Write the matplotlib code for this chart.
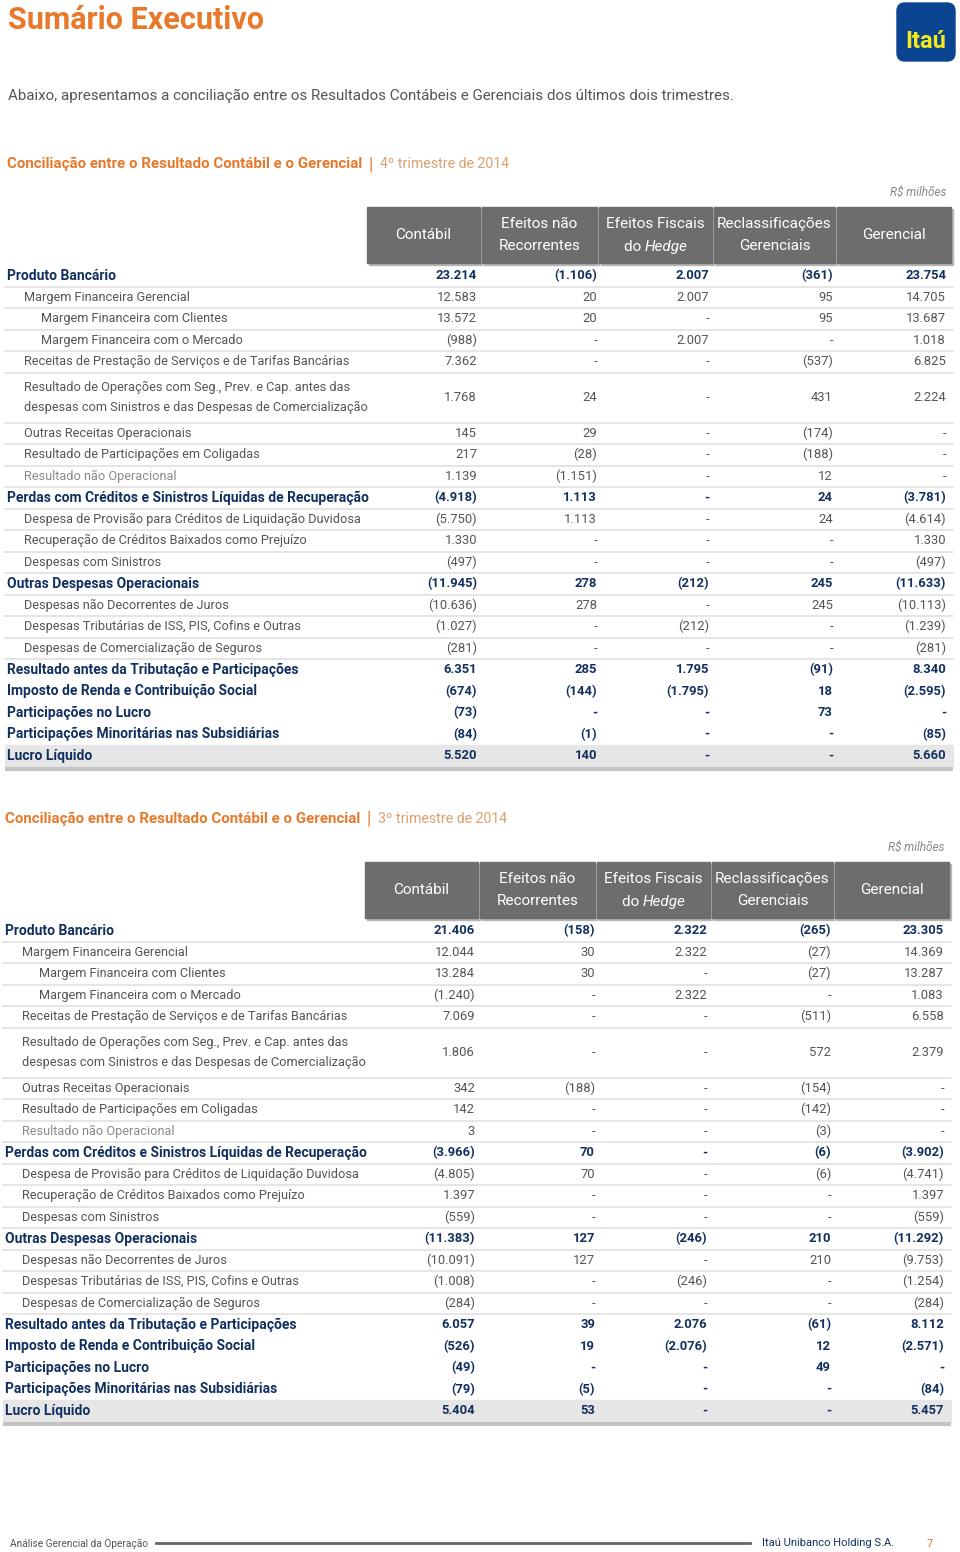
import matplotlib.pyplot as plt
from matplotlib.patches import Rectangle, FancyBboxPatch

plt.rcParams['font.family'] = ['Roboto', 'DejaVu Sans']

# ---- data ----
row_labels = [
    "Produto Bancário",
    "Margem Financeira Gerencial",
    "Margem Financeira com Clientes",
    "Margem Financeira com o Mercado",
    "Receitas de Prestação de Serviços e de Tarifas Bancárias",
    "Resultado de Operações com Seg., Prev. e Cap. antes das\ndespesas com Sinistros e das Despesas de Comercialização",
    "Outras Receitas Operacionais",
    "Resultado de Participações em Coligadas",
    "Resultado não Operacional",
    "Perdas com Créditos e Sinistros Líquidas de Recuperação",
    "Despesa de Provisão para Créditos de Liquidação Duvidosa",
    "Recuperação de Créditos Baixados como Prejuízo",
    "Despesas com Sinistros",
    "Outras Despesas Operacionais",
    "Despesas não Decorrentes de Juros",
    "Despesas Tributárias de ISS, PIS, Cofins e Outras",
    "Despesas de Comercialização de Seguros",
    "Resultado antes da Tributação e Participações",
    "Imposto de Renda e Contribuição Social",
    "Participações no Lucro",
    "Participações Minoritárias nas Subsidiárias",
    "Lucro Líquido",
]
row_levels = [0, 1, 2, 2, 1, 1, 1, 1, 1, 0, 1, 1, 1, 0, 1, 1, 1, 0, 0, 0, 0, 0]

col_headers = ["Contábil", "Efeitos não\nRecorrentes", "Efeitos Fiscais\ndo Hedge",
               "Reclassificações\nGerenciais", "Gerencial"]

# columns: Contábil, Efeitos não Recorrentes, Efeitos Fiscais do Hedge, Reclassificações, Gerencial
q4_2014 = [
    [23214, -1106, 2007, -361, 23754],
    [12583, 20, 2007, 95, 14705],
    [13572, 20, 0, 95, 13687],
    [-988, 0, 2007, 0, 1018],
    [7362, 0, 0, -537, 6825],
    [1768, 24, 0, 431, 2224],
    [145, 29, 0, -174, 0],
    [217, -28, 0, -188, 0],
    [1139, -1151, 0, 12, 0],
    [-4918, 1113, 0, 24, -3781],
    [-5750, 1113, 0, 24, -4614],
    [1330, 0, 0, 0, 1330],
    [-497, 0, 0, 0, -497],
    [-11945, 278, -212, 245, -11633],
    [-10636, 278, 0, 245, -10113],
    [-1027, 0, -212, 0, -1239],
    [-281, 0, 0, 0, -281],
    [6351, 285, 1795, -91, 8340],
    [-674, -144, -1795, 18, -2595],
    [-73, 0, 0, 73, 0],
    [-84, -1, 0, 0, -85],
    [5520, 140, 0, 0, 5660],
]

q3_2014 = [
    [21406, -158, 2322, -265, 23305],
    [12044, 30, 2322, -27, 14369],
    [13284, 30, 0, -27, 13287],
    [-1240, 0, 2322, 0, 1083],
    [7069, 0, 0, -511, 6558],
    [1806, 0, 0, 572, 2379],
    [342, -188, 0, -154, 0],
    [142, 0, 0, -142, 0],
    [3, 0, 0, -3, 0],
    [-3966, 70, 0, -6, -3902],
    [-4805, 70, 0, -6, -4741],
    [1397, 0, 0, 0, 1397],
    [-559, 0, 0, 0, -559],
    [-11383, 127, -246, 210, -11292],
    [-10091, 127, 0, 210, -9753],
    [-1008, 0, -246, 0, -1254],
    [-284, 0, 0, 0, -284],
    [6057, 39, 2076, -61, 8112],
    [-526, 19, -2076, 12, -2571],
    [-49, 0, 0, 49, 0],
    [-79, -5, 0, 0, -84],
    [5404, 53, 0, 0, 5457],
]

ORANGE = '#e8792b'
NAVY = '#12305f'
GRAY = '#555555'
LIGHT = '#8a8a8a'
HDR = '#6d6d6d'


def fmt(v):
    if v == 0:
        return '-'
    s = f"{abs(v):,}".replace(',', '.')
    return f"({s})" if v < 0 else s


def draw_table(ax, top, values, quarter, dx=0):
    # section title
    ax.text(7 + dx, top, "Conciliação entre o Resultado Contábil e o Gerencial",
            color=ORANGE, fontsize=10.9, fontweight='bold', va='center')
    ax.text(368 + dx, top, "|", color=ORANGE, fontsize=13, va='center')
    ax.text(380 + dx, top, quarter, color='#dba070', fontsize=10.2, va='center')
    ax.text(946 + dx, top + 28, "R$ milhões", color='#888888', fontsize=8.5,
            style='italic', ha='right', va='center')

    # header boxes
    col_x = [367, 482, 599, 714, 837, 953]
    h_top, h_bot = top + 43, top + 99
    for i, name in enumerate(col_headers):
        x0, x1 = col_x[i] + dx, col_x[i + 1] - 2 + dx
        ax.add_patch(Rectangle((x0 + 1.5, h_top + 1.5), x1 - x0, h_bot - h_top,
                               color='#b5b5b5', zorder=1))
        ax.add_patch(Rectangle((x0, h_top), x1 - x0, h_bot - h_top, color=HDR, zorder=2))
        cx, cy = (x0 + x1) / 2, (h_top + h_bot) / 2
        if 'Hedge' in name:
            ax.text(cx, cy - 11, "Efeitos Fiscais", color='white', fontsize=11,
                    ha='center', va='center', zorder=3)
            ax.text(cx - 11, cy + 12, "do ", color='white', fontsize=11,
                    ha='right', va='center', zorder=3)
            ax.text(cx - 11, cy + 12, "Hedge", color='white', fontsize=11,
                    style='italic', ha='left', va='center', zorder=3)
        else:
            ax.text(cx, cy, name, color='white', fontsize=11, ha='center',
                    va='center', linespacing=1.7, zorder=3)

    # rows
    val_x = [477, 597, 709, 833, 946]
    y = h_bot + 2
    n = len(row_labels)
    for r in range(n):
        two = '\n' in row_labels[r]
        h = 50 if two else 21.5
        cy = y + h / 2
        lvl = row_levels[r]
        bold = lvl == 0
        color = NAVY if bold else GRAY
        lcolor = LIGHT if row_labels[r] == "Resultado não Operacional" else color
        if r == n - 1:
            ax.add_patch(Rectangle((5 + dx, y), 948, h, color='#e6e6e6', zorder=0))
            ax.plot([5 + dx, 953 + dx], [y + h + 2.5, y + h + 2.5], color='#c4c4c4',
                    lw=3, solid_capstyle='butt')
        ax.text(7 + dx + 17 * lvl, cy, row_labels[r], color=lcolor,
                fontsize=10 if bold else 9.2,
                fontweight='bold' if bold else 'normal', va='center', linespacing=1.75)
        for c in range(5):
            ax.text(val_x[c] + dx, cy, fmt(values[r][c]), color=color, fontsize=9.4,
                    fontweight='bold' if bold else 'normal', ha='right', va='center')
        if r <= 16:
            ax.plot([5 + dx, 953 + dx], [y + h, y + h], color='#e0e0e0', lw=1.2)
        y += h


fig = plt.figure(figsize=(9.6, 15.52), dpi=100)
ax = fig.add_axes([0, 0, 1, 1])
ax.set_xlim(0, 960)
ax.set_ylim(1552, 0)
ax.axis('off')

ax.text(8, 20, "Sumário Executivo", color=ORANGE, fontsize=22, fontweight='bold', va='center')
ax.add_patch(FancyBboxPatch((897, 3), 58, 58, boxstyle='round,pad=0,rounding_size=8',
                            color='#0b4592'))
ax.text(926, 41, "Itaú", color='#f5e81a', fontsize=17, fontweight='bold',
        ha='center', va='center')
ax.text(8, 96, "Abaixo, apresentamos a conciliação entre os Resultados Contábeis e Gerenciais "
        "dos últimos dois trimestres.", color=GRAY, fontsize=10.9, va='center')

draw_table(ax, 164, q4_2014, "4º trimestre de 2014")
draw_table(ax, 819, q3_2014, "3º trimestre de 2014", dx=-2)

# footer
ax.text(10, 1544, "Análise Gerencial da Operação", color='#555555', fontsize=7.3, va='center')
ax.plot([156, 750], [1543, 1543], color='#666666', lw=2)
ax.text(762, 1543, "Itaú Unibanco Holding S.A.", color=NAVY, fontsize=8, va='center')
ax.text(930, 1544, "7", color=ORANGE, fontsize=8, va='center', ha='center')

fig.savefig('out.png', dpi=100)
